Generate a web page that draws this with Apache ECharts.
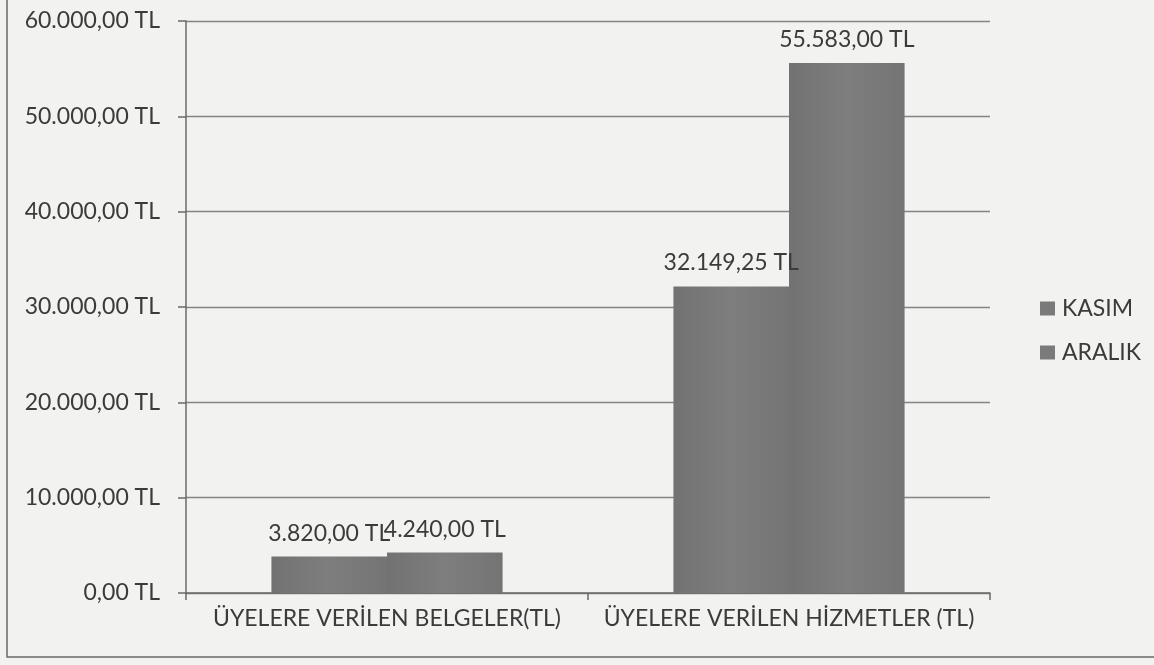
<!DOCTYPE html>
<html>
<head>
<meta charset="utf-8">
<script src="https://cdn.jsdelivr.net/npm/echarts@6/dist/echarts.min.js"></script>
<style>
  html, body { margin: 0; padding: 0; background: #f2f2f1; }
  #chart { width: 1154px; height: 665px; }
</style>
</head>
<body>
<div id="chart"></div>
<script>
const categories = ['ÜYELERE VERİLEN BELGELER(TL)', 'ÜYELERE VERİLEN HİZMETLER (TL)']
const seriesNames = ['KASIM', 'ARALIK']
const kasimValues = [3820, 32149.25]
const aralikValues = [4240, 55583]
const yTicks = [0, 10000, 20000, 30000, 40000, 50000, 60000]

const fontFamily = 'Lato, "Open Sans", sans-serif'
const textColor = '#3b3b3b'

// Turkish money format: 32.149,25 TL
function formatTL(v) {
  const parts = Number(v).toFixed(2).split('.')
  const intPart = parts[0].replace(/\B(?=(\d{3})+(?!\d))/g, '.')
  return intPart + ',' + parts[1] + ' TL'
}

const barColor = {
  type: 'linear', x: 0, y: 0, x2: 1, y2: 0,
  colorStops: [
    { offset: 0, color: '#727272' },
    { offset: 0.5, color: '#7e7e7e' },
    { offset: 1, color: '#747474' }
  ]
}

function makeSeries(name, values) {
  return {
    name: name,
    type: 'bar',
    data: values,
    barGap: '0%',
    barCategoryGap: '42.5%',
    itemStyle: { color: barColor },
    label: {
      show: true,
      position: 'top',
      distance: 12,
      color: textColor,
      fontFamily: fontFamily,
      fontSize: 23,
      formatter: (p) => formatTL(p.value)
    }
  }
}

const chart = echarts.init(document.getElementById('chart'))
chart.setOption({
  backgroundColor: '#f2f2f1',
  animation: false,
  graphic: [{
    type: 'rect',
    shape: { x: 7, y: -10, width: 1200, height: 667 },
    style: { fill: 'none', stroke: '#6a6a6a', lineWidth: 1.5 },
    silent: true
  }],
  grid: {
    left: 186,
    right: 164,
    top: 21,
    bottom: 72
  },
  legend: {
    data: seriesNames,
    orient: 'vertical',
    left: 1035,
    top: 292,
    itemWidth: 15,
    itemHeight: 14,
    itemGap: 21,
    icon: 'rect',
    textStyle: { color: textColor, fontFamily: fontFamily, fontSize: 23, padding: [0, 0, 0, 2] },
    itemStyle: { color: '#7a7a7a' }
  },
  xAxis: {
    type: 'category',
    data: categories,
    axisLine: { lineStyle: { color: '#6a6a6a', width: 1.5 } },
    axisTick: { show: true, interval: 0, length: 7, lineStyle: { color: '#6a6a6a', width: 1.5 } },
    axisLabel: {
      interval: 0,
      color: textColor,
      fontFamily: fontFamily,
      fontSize: 23,
      margin: 14
    }
  },
  yAxis: {
    type: 'value',
    min: 0,
    max: 60000,
    interval: 10000,
    axisLine: { show: true, lineStyle: { color: '#6a6a6a', width: 1.5 } },
    axisTick: { show: true, length: 8, lineStyle: { color: '#6a6a6a', width: 1.5 } },
    splitLine: { show: true, lineStyle: { color: '#858585', width: 1.3 } },
    axisLabel: {
      color: textColor,
      fontFamily: fontFamily,
      fontSize: 23,
      margin: 26,
      formatter: (v) => yTicks.indexOf(v) >= 0 ? formatTL(v) : ''
    }
  },
  series: [
    makeSeries(seriesNames[0], kasimValues),
    makeSeries(seriesNames[1], aralikValues)
  ]
})
</script>
</body>
</html>
